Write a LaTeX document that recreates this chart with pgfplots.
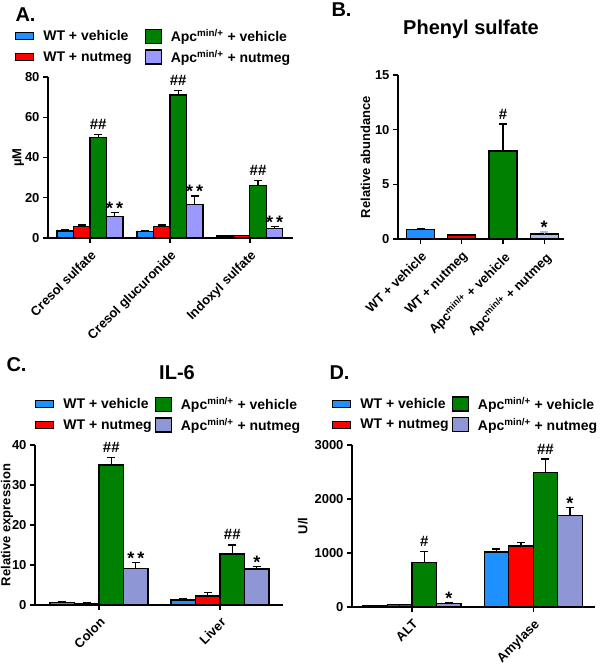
\documentclass[border=0pt]{standalone}
\usepackage{fontspec}
\setmainfont{Liberation Sans}
\usepackage{pgfplots}
\pgfplotsset{compat=1.18}
\newcommand{\fs}[1]{\fontsize{#1}{#1}\selectfont}
\definecolor{cblue}{RGB}{30,144,255}
\definecolor{cred}{RGB}{255,0,0}
\definecolor{cgreen}{RGB}{0,128,0}
\definecolor{cpurA}{RGB}{153,153,255}
\definecolor{cpurB}{RGB}{164,194,232}
\definecolor{cpurC}{RGB}{143,150,214}
\pgfplotsset{
  gp/.style={scale only axis, ybar, clip=false,
    axis x line*=bottom, axis y line*=left,
    axis line style={-, line width=1.4pt},
    every tick/.style={black, line width=1.4pt},
    major tick length=5pt, tick align=outside,
    ymin=0, enlargelimits=false,
    /pgf/number format/assume math mode=true,
    /pgf/number format/1000 sep={}, scaled y ticks=false,
    tick label style={font=\bfseries\fs{13}},
    label style={font=\bfseries\fs{13}},
    x tick label style={rotate=45, anchor=north east, inner sep=1pt},
    xticklabel shift=5pt,
    error bars/y dir=plus, error bars/y explicit,
    error bars/error mark=-,
    error bars/error mark options={rotate=90, line width=1.3pt, mark size=4pt, black},
  },
  bar/.style={draw=black, line width=1.3pt, fill=#1,
    error bars/error bar style={black, line width=1.3pt}},
  wtleg/.style={legend image code/.code={\draw[draw=black,line width=1.2pt,fill=#1] (0pt,-3.5pt) rectangle (18pt,3.5pt);}},
  apcleg/.style={legend image code/.code={\draw[draw=black,line width=1.2pt,fill=#1] (0pt,-7pt) rectangle (16pt,7pt);}},
  leg/.style 2 args={legend style={draw=none, fill=none, inner sep=0pt, font=\bfseries\fs{14},
    legend cell align=left, row sep=3pt,
    /tikz/every odd column/.append style={column sep=7pt},
    /tikz/every even column/.append style={column sep=#2},
    at={#1}, anchor=north west}, legend columns=2, transpose legend},
}
\tikzset{
  hashn/.style={font=\bfseries\fs{15}, anchor=base, yshift=5pt, inner sep=0pt},
  starn/.style={font=\bfseries\fs{18}, anchor=base, yshift=-2pt, inner sep=0pt},
}
\newcommand{\apc}{Apc\textsuperscript{min/+}}
\begin{document}
\begin{tikzpicture}[x=1pt,y=1pt]
\path[use as bounding box] (0,0) rectangle (600,666);
% panel letters and titles
\node[anchor=west, font=\bfseries\fs{20}] at (12,651) {A.};
\node[anchor=west, font=\bfseries\fs{20}] at (328,656) {B.};
\node[anchor=west, font=\bfseries\fs{20}] at (3,301) {C.};
\node[anchor=west, font=\bfseries\fs{20}] at (326,293) {D.};
\node[font=\bfseries\fs{20}] at (471,637) {Phenyl sulfate};
\node[font=\bfseries\fs{20}] at (177,293) {IL-6};

% ---------- A ----------
\begin{axis}[gp, at={(48pt,428pt)}, anchor=south west, width=245pt, height=161pt,
  xmin=-0.525, xmax=2.54, ymax=80, ytick={0,20,40,60,80},
  xtick={0,1,2}, xticklabels={Cresol sulfate, Cresol glucuronide, Indoxyl sulfate},
  bar width=16.5pt, ylabel={µM}, ylabel shift=-6pt,
  leg={(-0.135,1.31)}{11pt}]
\addplot[bar=cblue, wtleg=cblue, bar shift=-24.75pt] coordinates {(0,3.5) +- (0,0.5) (1,3.3) +- (0,0.5) (2,1.0) +- (0,0.2)};
\addlegendentry{WT + vehicle}
\addplot[bar=cred, wtleg=cred, bar shift=-8.25pt] coordinates {(0,5.8) +- (0,0.6) (1,5.8) +- (0,0.7) (2,1.2) +- (0,0.2)};
\addlegendentry{WT + nutmeg}
\addplot[bar=cgreen, apcleg=cgreen, bar shift=8.25pt] coordinates {(0,49.8) +- (0,1.6) (1,71) +- (0,2.2) (2,26) +- (0,2.5)};
\addlegendentry{\apc{} + vehicle}
\addplot[bar=cpurA, apcleg=cpurA, bar shift=24.75pt] coordinates {(0,10.8) +- (0,1.8) (1,16.6) +- (0,4.3) (2,4.6) +- (0,1.0)};
\addlegendentry{\apc{} + nutmeg}
\node[hashn, xshift=8.25pt] at (axis cs:0,51.4) {\#\#};
\node[hashn, xshift=8.25pt] at (axis cs:1,73.2) {\#\#};
\node[hashn, xshift=8.25pt] at (axis cs:2,28.5) {\#\#};
\node[starn, xshift=24.75pt] at (axis cs:0,12.6) {*\hspace{3pt}*};
\node[starn, xshift=24.75pt] at (axis cs:1,20.9) {*\hspace{3pt}*};
\node[starn, xshift=24.75pt] at (axis cs:2,5.6) {*\hspace{3pt}*};
\end{axis}

% ---------- B ----------
\begin{axis}[gp, at={(398pt,427pt)}, anchor=south west, width=166pt, height=164pt,
  xmin=-0.546, xmax=3.48, ymax=15, ytick={0,5,10,15},
  xtick={0,1,2,3}, xticklabels={WT + vehicle, WT + nutmeg, \apc{} + vehicle, \apc{} + nutmeg},
  bar width=28pt, ylabel={Relative abundance}, ylabel shift=-2pt]
\addplot[bar=cblue, bar shift=0pt] coordinates {(0,0.85) +- (0,0.12)};
\addplot[bar=cred, bar shift=0pt] coordinates {(1,0.36) +- (0,0.05)};
\addplot[bar=cgreen, bar shift=0pt] coordinates {(2,8.06) +- (0,2.45)};
\addplot[bar=cpurB, bar shift=0pt, error bars/error bar style={cpurB, line width=1.3pt}, error bars/error mark options={rotate=90, line width=1.3pt, mark size=4pt, cpurB}] coordinates {(3,0.45) +- (0,0.19)};
\node[hashn] at (axis cs:2,10.5) {\#};
\node[starn] at (axis cs:3,0.64) {*};
\end{axis}

% ---------- C ----------
\begin{axis}[gp, at={(35pt,61pt)}, anchor=south west, width=248pt, height=160pt,
  xmin=-0.529, xmax=1.52, ymax=40, ytick={0,10,20,30,40},
  xtick={0,1}, xticklabels={Colon, Liver},
  bar width=24.5pt, ylabel={Relative expression}, ylabel shift=-8pt,
  leg={(0,1.3125)}{1pt}]
\addplot[bar=cblue, wtleg=cblue, bar shift=-36.75pt] coordinates {(0,0.67) +- (0,0.2) (1,1.25) +- (0,0.4)};
\addlegendentry{WT + vehicle}
\addplot[bar=cred, wtleg=cred, bar shift=-12.25pt] coordinates {(0,0.4) +- (0,0.1) (1,2.25) +- (0,0.85)};
\addlegendentry{WT + nutmeg}
\addplot[bar=cgreen, apcleg=cgreen, bar shift=12.25pt] coordinates {(0,35) +- (0,1.9) (1,12.75) +- (0,2.25)};
\addlegendentry{\apc{} + vehicle}
\addplot[bar=cpurC, apcleg=cpurC, bar shift=36.75pt] coordinates {(0,9.2) +- (0,1.5) (1,9) +- (0,0.6)};
\addlegendentry{\apc{} + nutmeg}
\node[hashn, xshift=12.25pt] at (axis cs:0,36.9) {\#\#};
\node[hashn, xshift=12.25pt] at (axis cs:1,15) {\#\#};
\node[starn, xshift=36.75pt] at (axis cs:0,10.7) {*\hspace{3pt}*};
\node[starn, xshift=36.75pt] at (axis cs:1,9.6) {*};
\end{axis}

% ---------- D ----------
\begin{axis}[gp, at={(352pt,59pt)}, anchor=south west, width=243pt, height=162pt,
  xmin=-0.496, xmax=1.51, ymax=3000, ytick={0,1000,2000,3000},
  xtick={0,1}, xticklabels={ALT, Amylase},
  bar width=24.5pt, ylabel={U/l},
  leg={(-0.082,1.309)}{1pt}]
\addplot[bar=cblue, wtleg=cblue, bar shift=-36.75pt] coordinates {(0,25) +- (0,5) (1,1020) +- (0,56)};
\addlegendentry{WT + vehicle}
\addplot[bar=cred, wtleg=cred, bar shift=-12.25pt] coordinates {(0,40) +- (0,5) (1,1132) +- (0,68)};
\addlegendentry{WT + nutmeg}
\addplot[bar=cgreen, apcleg=cgreen, bar shift=12.25pt] coordinates {(0,823) +- (0,210) (1,2494) +- (0,246)};
\addlegendentry{\apc{} + vehicle}
\addplot[bar=cpurC, apcleg=cpurC, bar shift=36.75pt] coordinates {(0,62) +- (0,18) (1,1695) +- (0,142)};
\addlegendentry{\apc{} + nutmeg}
\node[hashn, xshift=12.25pt] at (axis cs:0,1033) {\#};
\node[hashn, xshift=12.25pt] at (axis cs:1,2740) {\#\#};
\node[starn, xshift=36.75pt] at (axis cs:0,80) {*};
\node[starn, xshift=36.75pt] at (axis cs:1,1837) {*};
\end{axis}
\end{tikzpicture}
\end{document}
